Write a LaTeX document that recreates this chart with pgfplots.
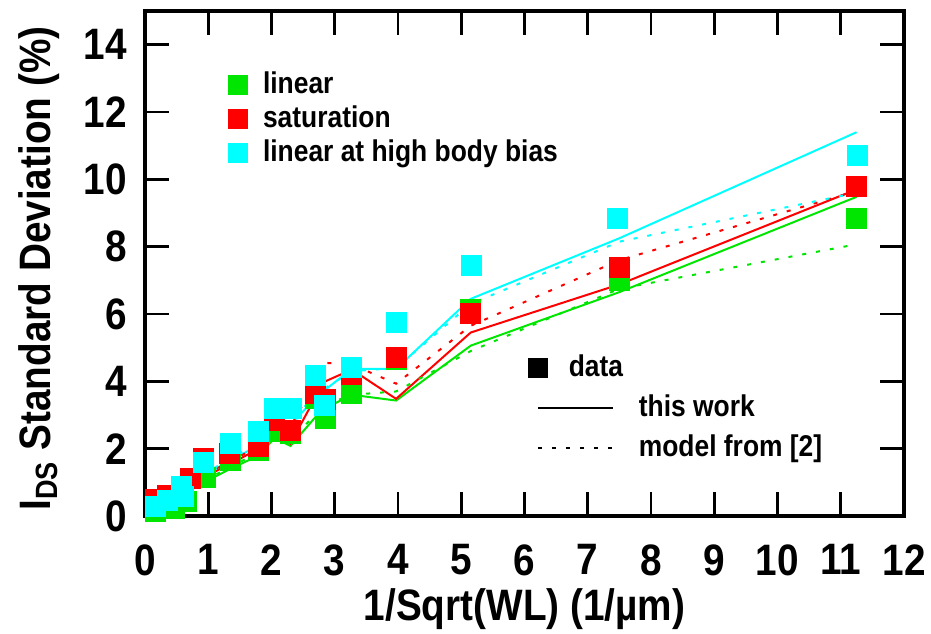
\documentclass[border=0pt]{standalone}
\usepackage{fontspec}
\setmainfont{Liberation Sans}[FakeStretch=0.88]
\usepackage{pgfplots}
\pgfplotsset{compat=1.18}
\definecolor{cgreen}{RGB}{0,230,0}
\definecolor{cred}{RGB}{255,0,0}
\definecolor{ccyan}{RGB}{0,255,255}
\begin{document}
\begin{tikzpicture}
\pgfplotsset{
  base/.style={scale only axis, width=379.5pt, height=252.5pt,
    xmin=0, xmax=12, ymin=0, ymax=15},
}
\begin{axis}[base,
  xtick={0,1,...,12}, ytick={0,2,...,14},
  tick align=inside, major tick length=12pt,
  axis line style={line width=1.7pt},
  major tick style={black, line width=1.4pt},
  /pgf/number format/assume math mode=true,
  tick label style={font=\fontsize{22}{24}\selectfont\bfseries},
  xticklabel style={inner sep=0pt, anchor=north, yshift=-14pt},
  yticklabel style={inner sep=0pt, anchor=east, xshift=-9pt},
  label style={font=\fontsize{22}{24}\selectfont\bfseries},
  xlabel={1/Sqrt(WL) (1/µm)},
  ylabel={I\textsubscript{DS} Standard Deviation (\%)},
  xlabel style={at={(rel axis cs:0.5,-0.185)}, anchor=center},
  ylabel style={at={(rel axis cs:-0.14,0.49)}, anchor=center, rotate=0},
  legend style={draw=none, fill=none, inner sep=0pt, outer sep=0pt,
    at={(rel axis cs:0.1094,0.881)}, anchor=north west,
    font=\fontsize{15}{17}\selectfont\bfseries,
    nodes={inner sep=0pt, text height=11pt, text depth=3pt},
    row sep=3pt, column sep=7.5pt},
  legend cell align=left,
]
% data markers
\addplot[only marks, mark=square*, mark size=5pt, color=cgreen,
  legend image code/.code={\fill[cgreen,draw=none] (0pt,-5pt) rectangle (10pt,5pt);}]
  coordinates {(0.17,0.15) (0.47,0.22) (0.66,0.42) (0.95,1.15) (1.35,1.65) (1.8,1.95)
  (2.05,2.5) (2.3,2.45) (2.7,3.5) (2.85,2.9) (3.27,3.64) (3.97,4.65) (5.15,6.15)
  (7.5,7.0) (11.25,8.85)};
\addlegendentry{linear}
\addplot[only marks, mark=square*, mark size=5pt, color=cred,
  legend image code/.code={\fill[cred,draw=none] (0pt,-5pt) rectangle (10pt,5pt);}]
  coordinates {(0.17,0.5) (0.35,0.6) (0.72,1.12) (0.93,1.72) (1.33,1.85) (1.8,2.07)
  (2.05,2.85) (2.3,2.55) (2.7,3.64) (2.85,3.45) (3.27,4.2) (3.97,4.71) (5.15,6.02)
  (7.5,7.38) (11.25,9.8)};
\addlegendentry{saturation}
\addplot[only marks, mark=square*, mark size=5pt, color=ccyan,
  legend image code/.code={\fill[ccyan,draw=none] (0pt,-5pt) rectangle (10pt,5pt);}]
  coordinates {(0.17,0.3) (0.35,0.45) (0.6,0.58) (0.58,0.88) (0.93,1.6) (1.35,2.17) (1.8,2.5)
  (2.05,3.2) (2.32,3.2) (2.69,4.17) (2.84,3.28) (3.27,4.42) (3.98,5.75) (5.16,7.43)
  (7.47,8.85) (11.26,10.72)};
\addlegendentry{linear at high body bias}
% this work (solid)
\addplot[forget plot, cgreen, line width=1pt] coordinates {(0.17,0.2) (0.5,0.55) (0.93,1.0)
  (1.35,1.4) (1.8,1.8) (2.05,2.32) (2.3,2.08) (2.7,2.95) (2.85,3.2) (3.27,3.6) (3.97,3.43)
  (5.15,5.06) (7.5,6.65) (11.25,9.48)};
\addplot[forget plot, cred, line width=1pt] coordinates {(0.17,0.3) (0.5,0.65) (0.93,1.15)
  (1.35,1.55) (1.8,2.0) (2.05,2.62) (2.3,2.15) (2.7,3.55) (2.85,4.0) (3.27,4.35) (3.97,3.48)
  (5.15,5.45) (7.5,6.88) (11.25,9.7)};
\addplot[forget plot, ccyan, line width=1pt] coordinates {(0.17,0.25) (0.5,0.6) (0.93,1.2)
  (1.35,1.65) (1.8,2.1) (2.05,2.68) (2.3,2.72) (2.7,3.5) (2.85,3.75) (3.27,4.37) (3.97,4.37)
  (5.15,6.45) (7.5,8.25) (11.25,11.4)};
% model from [2] (dashed)
\addplot[forget plot, cgreen, line width=1pt, dash pattern=on 2pt off 5pt] coordinates {(0.17,0.2)
  (0.5,0.55) (0.93,1.05) (1.35,1.45) (1.8,1.9) (2.05,2.4) (2.3,2.2) (2.7,3.05) (2.85,3.3)
  (3.27,3.6) (3.97,3.7) (5.15,4.9) (7.5,6.75) (11.25,8.07)};
\addplot[forget plot, cred, line width=1pt, dash pattern=on 2pt off 5pt] coordinates {(0.17,0.4)
  (0.5,0.75) (0.93,1.25) (1.35,1.6) (1.8,2.1) (2.05,2.8) (2.3,2.65) (2.7,4.0) (2.85,4.55)
  (3.27,4.5) (3.97,3.93) (5.15,5.65) (7.5,7.6) (11.25,9.65)};
\addplot[forget plot, ccyan, line width=1pt, dash pattern=on 2pt off 5pt] coordinates {(0.17,0.3)
  (0.5,0.7) (0.93,1.25) (1.35,1.7) (1.8,2.2) (2.05,2.75) (2.3,2.8) (2.7,3.6) (2.85,3.8)
  (3.27,4.3) (3.97,4.4) (5.15,6.3) (7.5,8.15) (11.25,9.6)};
\coordinate (sw) at (rel axis cs:0,0);
\coordinate (ne) at (rel axis cs:1,1);
\end{axis}
\begin{axis}[base, hide axis,
  legend style={draw=none, fill=none, inner sep=0pt, outer sep=0pt,
    at={(rel axis cs:0.5046,0.3208)}, anchor=north west,
    font=\fontsize{15}{17}\selectfont\bfseries,
    nodes={inner sep=0pt, text height=11pt, text depth=3pt},
    row sep=6pt, column sep=12.5pt},
  legend cell align=left,
]
\addlegendimage{legend image code/.code={\path[draw=none,fill=none] (-5pt,-5pt) rectangle (37.5pt,5pt);
  \fill[black,draw=none] (-5pt,-5pt) rectangle (5pt,5pt);}}
\addlegendentry{\hspace*{-44pt}data}
\addlegendimage{legend image code/.code={\path[draw=none,fill=none] (-5pt,-5pt) rectangle (37.5pt,5pt);
  \draw[black, line width=0.9pt] (0pt,0pt) -- (37.5pt,0pt);}}
\addlegendentry{this work}
\addlegendimage{legend image code/.code={\path[draw=none,fill=none] (-5pt,-5pt) rectangle (37.5pt,5pt);
  \draw[black, line width=0.9pt, dash pattern=on 2pt off 5pt] (0pt,0pt) -- (37.5pt,0pt);}}
\addlegendentry{model from [2]}
\end{axis}
\pgfresetboundingbox
\path ([shift={(-72.5pt,-58.5pt)}]sw) rectangle ([shift={(13.5pt,5.5pt)}]ne);
\end{tikzpicture}
\end{document}
